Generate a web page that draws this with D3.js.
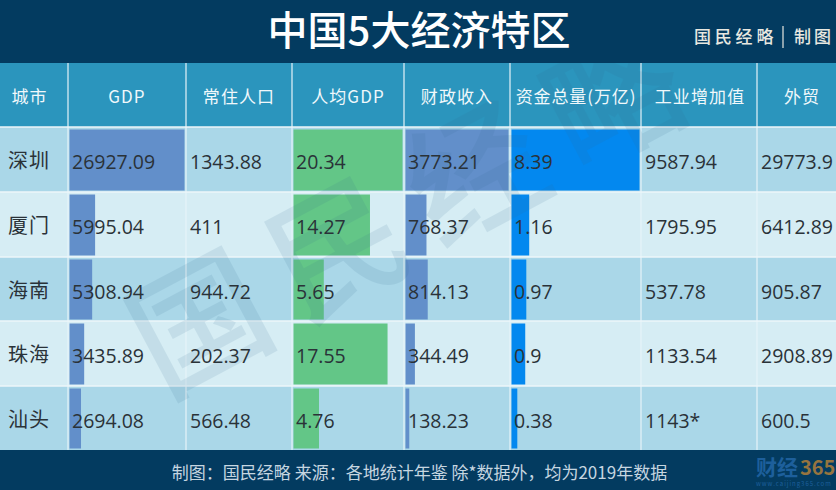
<!DOCTYPE html>
<html>
<head>
<meta charset="utf-8">
<script src="https://d3js.org/d3.v7.min.js"></script>
<style>
html,body{margin:0;padding:0;background:#033b60;}
svg{display:block;}
text{font-family:"Noto Sans CJK SC","Liberation Sans",sans-serif;}
.num{font-family:"Open Sans","Noto Sans CJK SC",sans-serif;}
</style>
</head>
<body>
<svg id="chart" width="836" height="490"></svg>
<script>
var headers=["城市","GDP","常住人口","人均GDP","财政收入","资金总量(万亿)","工业增加值","外贸"];
var cities=["深圳","厦门","海南","珠海","汕头"];
var gdp=[26927.09,5995.04,5308.94,3435.89,2694.08];
var population=[1343.88,411,944.72,202.37,566.48];
var perCapita=[20.34,14.27,5.65,17.55,4.76];
var revenue=[3773.21,768.37,814.13,344.49,138.23];
var funds=[8.39,1.16,0.97,0.9,0.38];
var industry=["9587.94","1795.95","537.78","1133.54","1143*"];
var trade=[29773.9,6412.89,905.87,2908.89,600.5];
var watermark=["国","民","经","略"];

var columns=[cities,gdp,population,perCapita,revenue,funds,industry,trade];
// 哪几列画数据条,以及颜色
var barColors={1:"#628fca",3:"#63c687",4:"#628fca",5:"#0388ef"};

var colEdges=[0,68,186,292,404,510,641,757,836];
var rowEdges=[127,192,257,321,386,450];
var headerCenters=[29.5,127,239,348,457,576,700,802];

var svg=d3.select("#chart");

// 表头
svg.append("rect").attr("y",63).attr("width",836).attr("height",64).attr("fill","#2b95bd");
// 隔行底色
svg.selectAll("rect.row").data(cities).enter().append("rect")
	.attr("class","row")
	.attr("y",function(d,i){return rowEdges[i];})
	.attr("width",836)
	.attr("height",function(d,i){return rowEdges[i+1]-rowEdges[i];})
	.attr("fill",function(d,i){return i%2==0?"#aad7e8":"#d6edf4";});

// 数据条
Object.keys(barColors).forEach(function(k){
	var c=+k;
	var x=d3.scaleLinear()
		.domain([0,d3.max(columns[c])])
		.range([colEdges[c]+1.5,colEdges[c+1]-1.5]);
	svg.selectAll("rect.bar"+c).data(columns[c]).enter().append("rect")
		.attr("class","bar"+c)
		.attr("x",x(0))
		.attr("y",function(d,i){return rowEdges[i]+2.5;})
		.attr("width",function(d){return x(d)-x(0);})
		.attr("height",function(d,i){return rowEdges[i+1]-rowEdges[i]-4;})
		.attr("fill",barColors[c]);
});

// 网格线
svg.selectAll("line.v").data(colEdges.slice(1,-1)).enter().append("line")
	.attr("class","v")
	.attr("x1",function(d){return d;}).attr("x2",function(d){return d;})
	.attr("y1",63).attr("y2",450)
	.attr("stroke","#e6f3f8").attr("stroke-width",1.2);
svg.selectAll("line.h").data(rowEdges.slice(0,-1)).enter().append("line")
	.attr("class","h")
	.attr("x1",0).attr("x2",836)
	.attr("y1",function(d){return d;}).attr("y2",function(d){return d;})
	.attr("stroke","#edf6fa").attr("stroke-width",1.4);

// 水印,一个字一个字放,上下两条深色带盖住超出的部分
var markStep=d3.scaleLinear().domain([0,3]);
var markX=markStep.copy().range([195,609]);
var markY=markStep.copy().range([315,90]);
svg.selectAll("text.mark").data(watermark).enter().append("text")
	.attr("class","mark")
	.attr("transform",function(d,i){return "translate("+markX(i)+","+markY(i)+") rotate(-28)";})
	.attr("text-anchor","middle")
	.attr("dominant-baseline","central")
	.attr("fill","#33688f")
	.attr("opacity",0.11)
	.attr("font-size",135)
	.attr("font-weight",500)
	.text(function(d){return d;});

// 上下深色带
svg.append("rect").attr("width",836).attr("height",63).attr("fill","#033b60");
svg.append("rect").attr("y",450).attr("width",836).attr("height",40).attr("fill","#033b60");

// 表头文字
svg.selectAll("text.head").data(headers).enter().append("text")
	.attr("class","head")
	.attr("x",function(d,i){return headerCenters[i];})
	.attr("y",103)
	.attr("text-anchor","middle")
	.attr("fill","#f0f8fb")
	.attr("font-size",17)
	.attr("letter-spacing",function(d,i){return i==5?0.9:1.1;})
	.text(function(d){return d;});

// 单元格文字
var textLeft=[8,72,190,296,408,514,645,761];
columns.forEach(function(col,c){
	svg.selectAll("text.c"+c).data(col).enter().append("text")
		.attr("class",c==0?"c0 city":"c"+c+" num")
		.attr("x",textLeft[c])
		.attr("y",function(d,i){return (rowEdges[i]+rowEdges[i+1])/2+(c==0?8.5:9.5);})
		.attr("fill","#2a3238")
		.attr("font-size",c==0?20:19.5)
		.attr("letter-spacing",c==0?1:0)
		.text(function(d){return d;});
});

// 标题
svg.append("text")
	.attr("x",419).attr("y",45)
	.attr("text-anchor","middle")
	.attr("fill","#ffffff")
	.attr("font-size",40)
	.attr("font-weight",500)
	.text("中国5大经济特区");
svg.append("text")
	.attr("x",694).attr("y",43)
	.attr("fill","#e8e8e0")
	.attr("font-size",17)
	.attr("font-weight",500)
	.attr("letter-spacing",3.8)
	.text("国民经略");
svg.append("line")
	.attr("x1",783).attr("x2",783).attr("y1",26).attr("y2",48)
	.attr("stroke","#e8e8e0").attr("stroke-width",1.2);
svg.append("text")
	.attr("x",794).attr("y",43)
	.attr("fill","#e8e8e0")
	.attr("font-size",17)
	.attr("font-weight",500)
	.attr("letter-spacing",3)
	.text("制图");

// 底部
svg.append("text")
	.attr("x",419.5).attr("y",479)
	.attr("text-anchor","middle")
	.attr("fill","#c6d6e0")
	.attr("font-size",17)
	.text("制图：国民经略 来源：各地统计年鉴 除*数据外，均为2019年数据");

svg.append("text")
	.attr("x",756).attr("y",475)
	.attr("fill","#1d5f9b")
	.attr("font-size",21)
	.attr("font-weight",700)
	.text("财经");
svg.append("text")
	.attr("x",800).attr("y",475)
	.attr("fill","#96743f")
	.attr("font-size",20)
	.attr("font-weight",700)
	.attr("font-family","Liberation Sans")
	.text("365");
svg.append("text")
	.attr("x",756).attr("y",486)
	.attr("fill","#1d5f9b")
	.attr("font-size",6)
	.attr("letter-spacing",1)
	.text("www.caijing365.com");
</script>
</body>
</html>
